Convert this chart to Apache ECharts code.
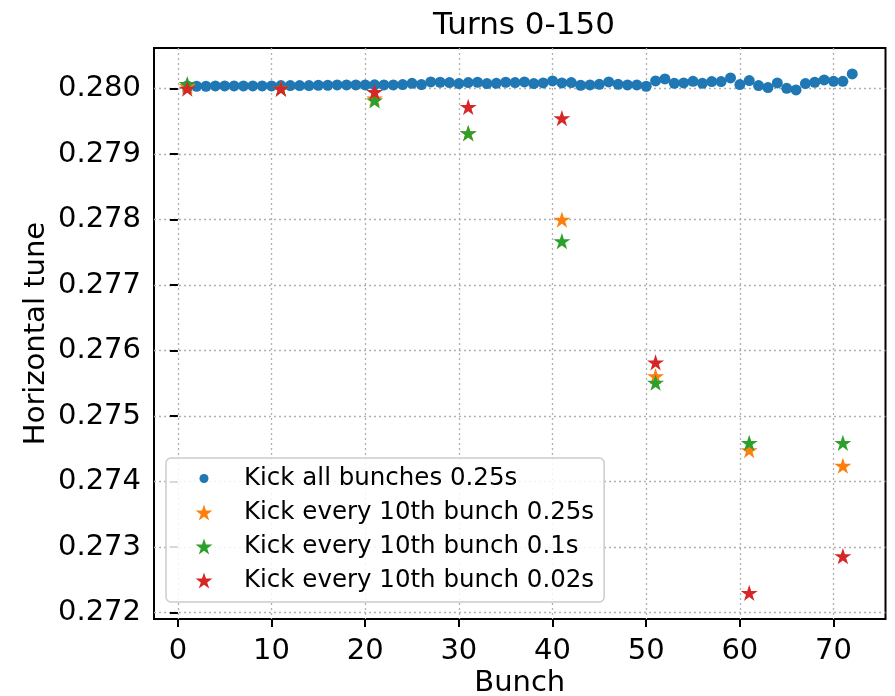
<!DOCTYPE html>
<html>
<head>
<meta charset="utf-8">
<script src="https://cdn.jsdelivr.net/npm/echarts@6/dist/echarts.min.js"></script>
<style>
html, body { margin: 0; padding: 0; background: #fff; }
#chart { width: 895px; height: 696px; }
</style>
</head>
<body>
<div id="chart"></div>
<script>
var titleText = 'Turns 0-150';
var seriesNames = ['Kick all bunches 0.25s', 'Kick every 10th bunch 0.25s',
    'Kick every 10th bunch 0.1s', 'Kick every 10th bunch 0.02s'];

// x ticks and y ticks
var xTicks = [0, 10, 20, 30, 40, 50, 60, 70];
var yTicks = [0.272, 0.273, 0.274, 0.275, 0.276, 0.277, 0.278, 0.279, 0.280];

// all bunches, kicked together
var allBunches = [1, 2, 3, 4, 5, 6, 7, 8, 9, 10, 11, 12, 13, 14, 15, 16, 17, 18,
    19, 20, 21, 22, 23, 24, 25, 26, 27, 28, 29, 30, 31, 32, 33, 34, 35, 36,
    37, 38, 39, 40, 41, 42, 43, 44, 45, 46, 47, 48, 49, 50, 51, 52, 53, 54,
    55, 56, 57, 58, 59, 60, 61, 62, 63, 64, 65, 66, 67, 68, 69, 70, 71, 72];
var tuneAll = [0.28004, 0.280036, 0.280036, 0.280041, 0.280041, 0.280041, 0.280041, 0.280041,
    0.280041, 0.280041, 0.280046, 0.280046, 0.280046, 0.280046, 0.280051, 0.280051,
    0.280056, 0.280056, 0.280056, 0.280056, 0.280058, 0.280056, 0.280056, 0.280061,
    0.280081, 0.280061, 0.280102, 0.280097, 0.280092, 0.280076, 0.280092, 0.280097,
    0.280076, 0.280081, 0.280097, 0.280092, 0.280102, 0.280076, 0.280086, 0.280117,
    0.280086, 0.280092, 0.280051, 0.280056, 0.280066, 0.280102, 0.280066, 0.280056,
    0.280056, 0.280036, 0.280117, 0.280148, 0.280081, 0.280086, 0.280112, 0.280081,
    0.280107, 0.280107, 0.280163, 0.280061, 0.280122, 0.280046, 0.280015, 0.280086,
    0.280005, 0.27998, 0.280076, 0.280097, 0.280132, 0.280112, 0.280112, 0.280224];

// every 10th bunch
var tenthBunches = [1, 11, 21, 31, 41, 51, 61, 71];
var tune025 = [0.28004, 0.28000, 0.27985, 0.27932, 0.27800, 0.27561, 0.27448, 0.27424];
var tune01 = [0.28007, 0.28000, 0.27982, 0.27932, 0.27767, 0.27551, 0.27459, 0.27459];
var tune002 = [0.28000, 0.28000, 0.27995, 0.27972, 0.27955, 0.27582, 0.27230, 0.27286];

var colors = ['#1f77b4', '#ff7f0e', '#2ca02c', '#d62728'];
var font = 'DejaVu Sans';
// matplotlib '*' marker
var starPath = 'path://M100,0L122.45,69.1L195.11,69.1L136.33,111.8L158.78,180.9L100,138.2L41.22,180.9L63.67,111.8L4.89,69.1L77.55,69.1Z';
// legend dot drawn smaller than the stars
var smallDot = 'image://data:image/svg+xml;charset=utf-8,' + encodeURIComponent(
    '<svg xmlns="http://www.w3.org/2000/svg" width="16" height="16" viewBox="0 0 16 16">' +
    '<circle cx="8" cy="8" r="4.5" fill="' + colors[0] + '"/></svg>');

function pairs(xs, ys) {
    return xs.map(function(x, i) { return [x, ys[i]]; });
}

var myChart = echarts.init(document.getElementById('chart'));

var starSeries = [tune025, tune01, tune002].map(function(vals, i) {
    return {
        name: seriesNames[i + 1],
        type: 'scatter',
        symbol: starPath,
        symbolKeepAspect: true,
        symbolSize: 17,
        itemStyle: { color: colors[i + 1], opacity: 1 },
        data: pairs(tenthBunches, vals)
    };
});

var option = {
    backgroundColor: '#fff',
    animation: false,
    textStyle: { fontFamily: font },
    title: {
        text: titleText,
        left: 519,
        textAlign: 'center',
        top: 5,
        textStyle: { fontFamily: font, fontSize: 31, fontWeight: 'normal', color: '#000' }
    },
    grid: {
        left: 154, right: 9.5, top: 48, bottom: 77,
        outerBoundsMode: 'none',
        containLabel: false,
        show: true,
        borderColor: '#000',
        borderWidth: 2,
        backgroundColor: 'transparent'
    },
    legend: {
        orient: 'vertical',
        left: 166,
        top: 458,
        padding: [8, 10, 9, 26],
        itemGap: 9,
        itemWidth: 24,
        itemHeight: 16,
        backgroundColor: 'rgba(255,255,255,0.85)',
        borderColor: '#cccccc',
        borderWidth: 1.5,
        borderRadius: 5,
        textStyle: { fontFamily: font, fontSize: 24.5, color: '#000', padding: [0, 0, 0, 23] },
        data: [
            { name: seriesNames[0], icon: smallDot },
            { name: seriesNames[1], icon: starPath },
            { name: seriesNames[2], icon: starPath },
            { name: seriesNames[3], icon: starPath }
        ]
    },
    xAxis: {
        type: 'value',
        min: -2.55,
        max: 75.55,
        name: 'Bunch',
        nameLocation: 'middle',
        nameGap: 50,
        nameMoveOverlap: false,
        nameTextStyle: { fontFamily: font, fontSize: 29, color: '#000' },
        axisLine: { show: false },
        axisTick: { show: true, customValues: xTicks, length: 8, lineStyle: { color: '#000', width: 2 } },
        axisLabel: {
            customValues: xTicks, margin: 18,
            fontFamily: font, fontSize: 29, color: '#000'
        },
        splitLine: { show: true, lineStyle: { color: '#b0b0b0', type: [2, 3], width: 1.3 } }
    },
    yAxis: {
        type: 'value',
        min: 0.27190,
        max: 0.28062,
        name: 'Horizontal tune',
        nameLocation: 'middle',
        nameGap: 103,
        nameMoveOverlap: false,
        nameTextStyle: { fontFamily: font, fontSize: 29, color: '#000' },
        axisLine: { show: false },
        axisTick: { show: true, customValues: yTicks, length: 8, lineStyle: { color: '#000', width: 2 } },
        axisLabel: {
            customValues: yTicks, margin: 13,
            fontFamily: font, fontSize: 29, color: '#000',
            formatter: function(v) { return v.toFixed(3); }
        },
        splitLine: { show: true, lineStyle: { color: '#b0b0b0', type: [2, 3], width: 1.3 } }
    },
    series: [{
        name: seriesNames[0],
        type: 'scatter',
        symbol: 'circle',
        symbolSize: 11,
        itemStyle: { color: colors[0], opacity: 1 },
        data: pairs(allBunches, tuneAll)
    }].concat(starSeries)
};

myChart.setOption(option);
</script>
</body>
</html>
